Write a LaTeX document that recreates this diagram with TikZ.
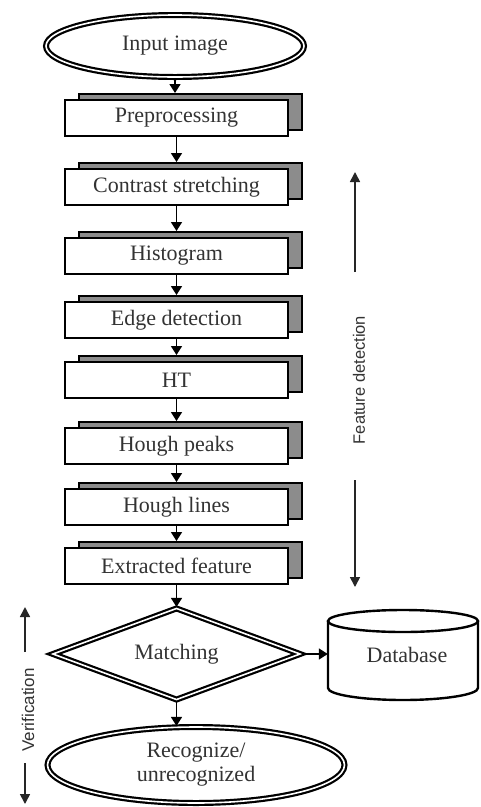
\documentclass[tikz,border=0pt]{standalone}
\usepackage{fontspec}
\setmainfont{Liberation Serif}
\newfontfamily\labfont{Liberation Sans}
\usetikzlibrary{shapes.geometric,arrows.meta}
\definecolor{txt}{gray}{0.2}
\definecolor{shade}{gray}{0.55}
\begin{document}
\begin{tikzpicture}[x=1pt,y=-1pt,
  mainbox/.style={draw=black, line width=2.2pt, fill=white, minimum width=223pt, minimum height=36pt, inner sep=0pt, font=\fontsize{22}{24}\selectfont, text=txt},
  shadowbox/.style={draw=black, line width=2pt, fill=shade, minimum width=223pt, minimum height=36pt, inner sep=0pt},
  dbl/.style={draw=black, line width=2.2pt, double=white, double distance=1.6pt, fill=white, inner sep=0pt, font=\fontsize{22}{24}\selectfont, text=txt, align=center},
  flow/.style={line width=1.6pt, -{Triangle[width=11pt,length=9pt]}},
  side/.style={line width=1.6pt, draw=black!85, -{Triangle[width=10pt,length=10pt]}},
  sidelab/.style={font=\labfont\fontsize{16.5}{18}\selectfont, text=txt, rotate=90, inner sep=0pt}
]
\useasboundingbox (0,0) rectangle (480,807);
\fill[white] (0,0) rectangle (480,807);

% input
\node[dbl, ellipse, minimum width=258pt, minimum height=62pt] (in) at (175,46) {Input image};

% process boxes
\foreach \n/\y/\t in {1/118/Preprocessing, 2/187/Contrast stretching, 3/256/Histogram, 4/320/Edge detection, 5/380/HT, 6/446/Hough peaks, 7/507/Hough lines, 8/566/Extracted feature}{
  \node[shadowbox] (s\n) at (190.5,{\y-6}) {};
  \node[mainbox] (b\n) at (176.5,\y) {\t};
}

% arrows between
\draw[flow] (in.south) -- (in.south |- s1.north);
\foreach \a/\b in {1/2,2/3,3/4,4/5,5/6,6/7,7/8}{
  \draw[flow] (b\a.south) -- (b\a.south |- s\b.north);
}

% matching diamond
\node[dbl, diamond, aspect=2.7, minimum width=248pt, minimum height=92pt] (m) at (176.5,654) {Matching};
\draw[flow] (b8.south) -- (m.north);

% database
\node[minimum width=150pt, minimum height=90pt, inner sep=0pt] (db) at (403,655) {};
\filldraw[fill=white, draw=black, line width=2.4pt]
  (328,621) -- (328,688) .. controls (328,694.6) and (361.6,700) .. (403,700)
  .. controls (444.4,700) and (478,694.6) .. (478,688) -- (478,621);
\draw[line width=2.4pt, fill=white] (403,621) ellipse [x radius=75, y radius=11];
\node[font=\fontsize{22}{24}\selectfont, text=txt] at (407,655) {Database};
\draw[flow] (m.east) -- (m.east -| db.west);

% result
\node[dbl, ellipse, minimum width=297pt, minimum height=76pt] (r) at (196,765) {Recognize/\\unrecognized};
\draw[flow] (m.south) -- (m.south |- r.north);

% feature detection label
\coordinate (f1) at (355,272);
\coordinate (f2) at (355,172);
\coordinate (f3) at (355,480);
\coordinate (f4) at (355,587);
\draw[side] (f1) -- (f2);
\draw[side] (f3) -- (f4);
\node[sidelab] (fd) at (359,380) {Feature detection};

% verification label
\coordinate (v1) at (25,652);
\coordinate (v2) at (25,607);
\coordinate (v3) at (25,763);
\coordinate (v4) at (25,804);
\draw[side] (v1) -- (v2);
\draw[side] (v3) -- (v4);
\node[sidelab, font=\labfont\fontsize{17}{18}\selectfont] (vf) at (28,710) {Verification};
\end{tikzpicture}
\end{document}
